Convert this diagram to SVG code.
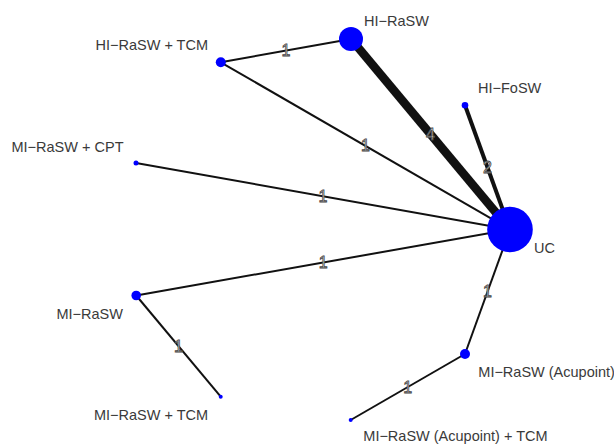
<svg xmlns="http://www.w3.org/2000/svg" width="614" height="445" viewBox="0 0 614 445">
<style>
.e{stroke:#111;stroke-linecap:butt;fill:none}
.n{fill:#0000ff}
.t{font-family:"Liberation Sans",Arial,sans-serif;font-size:14.5px;fill:#3a3a3a}
.el{font-family:"Liberation Sans",Arial,sans-serif;font-size:16px;fill:#fff;stroke:#444;stroke-width:0.8;text-anchor:middle;dominant-baseline:central}
</style>
<rect width="614" height="445" fill="#fff"/>
<g id="connectors">
<line class="e" x1="220.8" y1="62.3" x2="351" y2="39" stroke-width="2"/>
<line class="e" x1="351" y1="39" x2="510" y2="229.5" stroke-width="8.5"/>
<line class="e" x1="465" y1="105.3" x2="510" y2="229.5" stroke-width="4"/>
<line class="e" x1="220.8" y1="62.3" x2="510" y2="229.5" stroke-width="2"/>
<line class="e" x1="136" y1="163" x2="510" y2="229.5" stroke-width="2"/>
<line class="e" x1="136.2" y1="295.5" x2="510" y2="229.5" stroke-width="2"/>
<line class="e" x1="136.2" y1="295.5" x2="220.7" y2="396.7" stroke-width="2"/>
<line class="e" x1="510" y1="229.5" x2="465" y2="354" stroke-width="2"/>
<line class="e" x1="465" y1="354" x2="350.7" y2="420" stroke-width="2"/>
<text class="el" x="285.9" y="50.7">1</text>
<text class="el" x="430.5" y="134.3">4</text>
<text class="el" x="487.5" y="167.4">2</text>
<text class="el" x="365.4" y="145.9">1</text>
<text class="el" x="323" y="196.3">1</text>
<text class="el" x="323.1" y="262.5">1</text>
<text class="el" x="178.4" y="346.1">1</text>
<text class="el" x="487.5" y="291.7">1</text>
<text class="el" x="407.8" y="387">1</text>
</g>
<g id="node-HI-RaSW"><circle class="n" cx="351" cy="39" r="12"/><text class="t" x="364" y="25.5">HI−RaSW</text></g>
<g id="node-HI-RaSW-TCM"><circle class="n" cx="220.8" cy="62.3" r="5"/><text class="t" x="95.5" y="50">HI−RaSW + TCM</text></g>
<g id="node-HI-FoSW"><circle class="n" cx="465" cy="105.3" r="3.3"/><text class="t" x="478" y="93.3">HI−FoSW</text></g>
<g id="node-MI-RaSW-CPT"><circle class="n" cx="136" cy="163" r="2.5"/><text class="t" x="11.5" y="152">MI−RaSW + CPT</text></g>
<g id="node-UC"><circle class="n" cx="510" cy="229.5" r="22.8"/><text class="t" x="534" y="253.3">UC</text></g>
<g id="node-MI-RaSW"><circle class="n" cx="136.2" cy="295.5" r="4.8"/><text class="t" x="56.5" y="319">MI−RaSW</text></g>
<g id="node-MI-RaSW-TCM"><circle class="n" cx="220.7" cy="396.7" r="2"/><text class="t" x="94" y="420">MI−RaSW + TCM</text></g>
<g id="node-MI-RaSW-Acupoint"><circle class="n" cx="465" cy="354" r="5"/><text class="t" x="478.3" y="377">MI−RaSW (Acupoint)</text></g>
<g id="node-MI-RaSW-Acupoint-TCM"><circle class="n" cx="350.7" cy="420" r="2"/><text class="t" x="363.3" y="441">MI−RaSW (Acupoint) + TCM</text></g>
</svg>
